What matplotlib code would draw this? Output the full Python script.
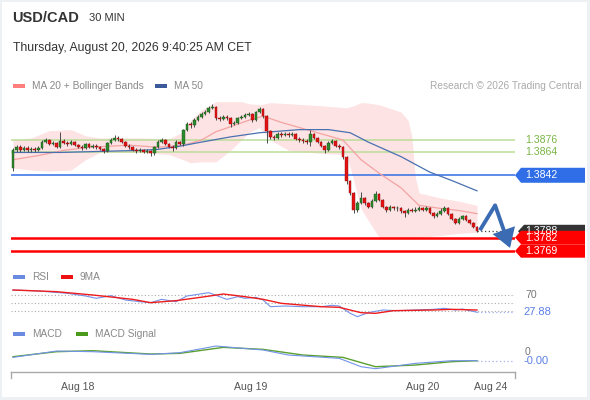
import numpy as np
import matplotlib
matplotlib.use('Agg')
import matplotlib.pyplot as plt
from matplotlib.patches import Polygon, Rectangle
from matplotlib.transforms import blended_transform_factory
from matplotlib.lines import Line2D

plt.rcParams['font.family'] = ['Liberation Sans', 'DejaVu Sans']

# ---------------- data ----------------
symbol = "USD/CAD"
timeframe = "30 MIN"
timestamp = "Thursday, August 20, 2026 9:40:25 AM CET"

first_open = 1.3849
closes = [1.3866, 1.3869, 1.3866, 1.3868, 1.3866, 1.3867, 1.3866, 1.3868, 1.3874, 1.3876,
          1.3872, 1.3873, 1.3869, 1.3875, 1.3873, 1.3872, 1.3874, 1.3871, 1.3869, 1.3868,
          1.3872, 1.3869, 1.3870, 1.3869, 1.3867, 1.3865, 1.3873, 1.3876, 1.3878, 1.3877,
          1.3874, 1.3870, 1.3869, 1.3866, 1.3865, 1.3866, 1.3864, 1.3865, 1.3863, 1.3869,
          1.3874, 1.3876, 1.3872, 1.3869, 1.3868, 1.3874, 1.3872, 1.3886, 1.3891, 1.3890,
          1.3895, 1.3898, 1.3901, 1.3903, 1.3907, 1.3908, 1.3897, 1.3896, 1.3898, 1.3897,
          1.3891, 1.3892, 1.3897, 1.3898, 1.3900, 1.3901, 1.3895, 1.3903, 1.3906, 1.3899,
          1.3885, 1.3879, 1.3878, 1.3882, 1.3881, 1.3882, 1.3881, 1.3882, 1.3877, 1.3876,
          1.3875, 1.3874, 1.3882, 1.3878, 1.3874, 1.3870, 1.3866, 1.3873, 1.3875, 1.3870,
          1.3869, 1.3860, 1.3836, 1.3825, 1.3809, 1.3815, 1.3820, 1.3815, 1.3811, 1.3817,
          1.3824, 1.3818, 1.3811, 1.3809, 1.3811, 1.3810, 1.3810, 1.3808, 1.3806, 1.3809,
          1.3808, 1.3809, 1.3810, 1.3809, 1.3810, 1.3806, 1.3803, 1.3805, 1.3808, 1.3810,
          1.3805, 1.3800, 1.3796, 1.3800, 1.3803, 1.3799, 1.3796, 1.3792, 1.3788]
highs = [1.3868, 1.3871, 1.3871, 1.3870, 1.3870, 1.3869, 1.3869, 1.3870, 1.3876, 1.3878,
         1.3877, 1.3875, 1.3874, 1.3884, 1.3877, 1.3875, 1.3876, 1.3875, 1.3872, 1.3871,
         1.3873, 1.3873, 1.3872, 1.3872, 1.3870, 1.3868, 1.3874, 1.3878, 1.3881, 1.3880,
         1.3878, 1.3875, 1.3872, 1.3870, 1.3868, 1.3868, 1.3867, 1.3867, 1.3866, 1.3870,
         1.3876, 1.3878, 1.3877, 1.3873, 1.3871, 1.3876, 1.3875, 1.3887, 1.3893, 1.3893,
         1.3897, 1.3900, 1.3903, 1.3905, 1.3909, 1.3911, 1.3909, 1.3899, 1.3900, 1.3900,
         1.3898, 1.3894, 1.3898, 1.3900, 1.3902, 1.3903, 1.3902, 1.3904, 1.3908, 1.3907,
         1.3900, 1.3886, 1.3881, 1.3884, 1.3884, 1.3884, 1.3884, 1.3884, 1.3883, 1.3879,
         1.3878, 1.3877, 1.3886, 1.3883, 1.3879, 1.3875, 1.3871, 1.3875, 1.3877, 1.3876,
         1.3872, 1.3870, 1.3861, 1.3837, 1.3826, 1.3817, 1.3826, 1.3821, 1.3816, 1.3819,
         1.3827, 1.3825, 1.3819, 1.3812, 1.3813, 1.3812, 1.3812, 1.3811, 1.3809, 1.3810,
         1.3810, 1.3811, 1.3812, 1.3811, 1.3812, 1.3811, 1.3807, 1.3807, 1.3810, 1.3812,
         1.3811, 1.3806, 1.3801, 1.3802, 1.3804, 1.3804, 1.3800, 1.3797, 1.3793]
lows = [1.3846, 1.3864, 1.3864, 1.3865, 1.3864, 1.3864, 1.3864, 1.3865, 1.3867, 1.3873,
        1.3871, 1.3871, 1.3868, 1.3868, 1.3872, 1.3870, 1.3871, 1.3870, 1.3868, 1.3866,
        1.3867, 1.3868, 1.3868, 1.3867, 1.3866, 1.3863, 1.3864, 1.3872, 1.3875, 1.3875,
        1.3873, 1.3869, 1.3867, 1.3865, 1.3863, 1.3864, 1.3863, 1.3863, 1.3861, 1.3862,
        1.3868, 1.3873, 1.3871, 1.3868, 1.3865, 1.3867, 1.3871, 1.3870, 1.3885, 1.3888,
        1.3889, 1.3894, 1.3897, 1.3900, 1.3902, 1.3906, 1.3895, 1.3894, 1.3895, 1.3895,
        1.3889, 1.3890, 1.3891, 1.3896, 1.3897, 1.3899, 1.3893, 1.3894, 1.3902, 1.3897,
        1.3873, 1.3877, 1.3876, 1.3877, 1.3879, 1.3880, 1.3879, 1.3880, 1.3876, 1.3874,
        1.3873, 1.3872, 1.3870, 1.3877, 1.3873, 1.3869, 1.3863, 1.3865, 1.3872, 1.3869,
        1.3867, 1.3858, 1.3834, 1.3823, 1.3806, 1.3807, 1.3814, 1.3813, 1.3810, 1.3810,
        1.3816, 1.3817, 1.3810, 1.3807, 1.3808, 1.3809, 1.3808, 1.3806, 1.3802, 1.3805,
        1.3807, 1.3807, 1.3808, 1.3808, 1.3808, 1.3805, 1.3801, 1.3802, 1.3804, 1.3807,
        1.3804, 1.3799, 1.3795, 1.3795, 1.3799, 1.3798, 1.3795, 1.3791, 1.3787]

# indicator readings (candle index, value)
ma20_idx = [0, 7, 14, 21, 32, 40, 47, 52, 56, 61, 65, 69, 74, 79, 85, 91, 96, 101, 107, 112, 118, 123, 128]
ma20_val = [1.3857, 1.3861, 1.3866, 1.3869, 1.3871, 1.3869, 1.3871, 1.3876, 1.3884, 1.3890, 1.3895, 1.3899,
            1.3893, 1.3888, 1.3882, 1.3876, 1.3857, 1.3844, 1.3830, 1.3813, 1.3810, 1.3808, 1.3805]
ma50_idx = [0, 13, 24, 35, 40, 46, 52, 60, 68, 79, 87, 93, 98, 107, 115, 121, 128]
ma50_val = [1.3864, 1.3864, 1.3865, 1.3866, 1.3867, 1.3870, 1.3874, 1.3879, 1.3883, 1.3886, 1.3886,
            1.3883, 1.3874, 1.3860, 1.3845, 1.3837, 1.3827]
bb_idx = [0, 5, 10, 16, 20, 24, 35, 43, 47, 49, 52, 56, 60, 63, 65, 68, 71, 76, 85, 92, 94, 96, 97,
          101, 107, 109, 110, 111, 112, 118, 123, 128]
bb_upper = [1.3876, 1.3878, 1.3885, 1.3886, 1.3880, 1.3878, 1.3878, 1.3877, 1.3884, 1.3895, 1.3905,
            1.3913, 1.3913, 1.3913, 1.3911, 1.3910, 1.3912, 1.3911, 1.3909, 1.3907, 1.3909, 1.3912,
            1.3912, 1.3910, 1.3903, 1.3895, 1.3880, 1.3840, 1.3825, 1.3820, 1.3817, 1.3813]
bb_lower = [1.3849, 1.3847, 1.3846, 1.3847, 1.3857, 1.3864, 1.3864, 1.3862, 1.3857, 1.3854, 1.3855,
            1.3855, 1.3866, 1.3876, 1.3883, 1.3888, 1.3876, 1.3866, 1.3863, 1.3862, 1.3837, 1.3810,
            1.3804, 1.3782, 1.3781, 1.3781, 1.3782, 1.3782, 1.3782, 1.3784, 1.3786, 1.3787]

rsi_idx = [0, 7, 15, 20, 23, 27, 31, 35, 38, 41, 45, 48, 51, 54, 59, 62, 64, 67, 69, 71, 75, 80, 85,
           88, 90, 93, 95, 98, 102, 106, 111, 116, 119, 122, 124, 128]
rsi_val = [82.2, 79.8, 74.1, 67.6, 61.9, 68.4, 57.8, 53.7, 51.3, 59.4, 53.7, 67.6, 71.6, 75.7, 59.4,
           65.9, 61.9, 64.3, 57.8, 41.5, 43.2, 41.5, 41.5, 44.8, 43.2, 25.3, 17.2, 26.9, 33.4, 31.8,
           33.4, 35.0, 37.5, 33.4, 35.8, 27.88]
rsi_ma_idx = [0, 12, 22, 33, 38, 45, 53, 58, 64, 69, 74, 85, 90, 96, 100, 105, 116, 121, 128]
rsi_ma_val = [82.2, 78.1, 70.0, 59.4, 51.3, 56.2, 65.9, 72.4, 65.9, 59.4, 49.7, 41.5, 39.9, 26.9,
              25.3, 31.8, 33.4, 35.0, 33.4]
rsi_levels = [70, 50, 30]

macd_idx = [0, 12, 22, 38, 46, 56, 69, 76, 90, 96, 100, 111, 121, 128]
macd_val = [-0.00051, 0.00006, 0.0, -0.00024, -0.00009, 0.00051, 0.00015, -0.00030, -0.00060,
            -0.00135, -0.00153, -0.00105, -0.00081, -0.00081]
signal_idx = [0, 12, 22, 38, 46, 58, 69, 80, 91, 100, 111, 121, 128]
signal_val = [-0.00045, 0.0, 0.00009, -0.00021, -0.00015, 0.00039, 0.00021, -0.00030, -0.00051,
              -0.00135, -0.00120, -0.00090, -0.00081]

resistance = [1.3876, 1.3864]
pivot = 1.3842
supports = [1.3782, 1.3769]
forecast_idx = [128.8, 133.0, 137.1]
forecast_val = [1.3789, 1.3813, 1.3772]

tick_pos = [17.9, 65.7, 113.1, 131.9]
tick_labels = ["Aug 18", "Aug 19", "Aug 20", "Aug 24"]

# ---------------- figure ----------------
W, H = 590, 400
fig = plt.figure(figsize=(W / 100, H / 100), dpi=100)
fig.patch.set_facecolor('#eef1f4')
fig.add_artist(Rectangle((1.5 / W, 3 / H), (W - 4.5) / W, (H - 4.5) / H,
                         transform=fig.transFigure, facecolor='white', edgecolor='none', zorder=-10))


def rect(x0, y0, x1, y1):
    return [x0 / W, 1 - y1 / H, (x1 - x0) / W, (y1 - y0) / H]


n = len(closes)
idx = np.arange(n)
opens = np.r_[first_open, closes[:-1]]
closes_a = np.array(closes)
xl = ((11 - 13) / 3.625, (515 - 13) / 3.625)

# main panel
ax = fig.add_axes(rect(11, 95, 515, 262))
ax.set_xlim(*xl)
ax.set_ylim(1.375839, 1.391938)
ax.axis('off')

ax.fill_between(bb_idx, bb_lower, bb_upper, color='#fde3e3', lw=0, zorder=1)
ax.plot(ma20_idx, ma20_val, color='#f4a3a3', lw=0.9, zorder=2)
ax.plot(ma50_idx, ma50_val, color='#4a70b0', lw=0.9, zorder=2)

for r in resistance:
    ax.axhline(r, color='#bcdc98', lw=1.1, zorder=1.5)
ax.axhline(pivot, color='#2f6ee6', lw=1.1, zorder=1.5)
for s in supports:
    ax.axhline(s, color='#ff0000', lw=1.8, zorder=1.5)

ax.vlines(idx, lows, highs, color='#4a4a4a', lw=0.7, zorder=3)
up = closes_a >= opens
body_h = np.maximum(np.abs(closes_a - opens), 0.00005)
body_b = np.minimum(closes_a, opens)
ax.bar(idx[up], body_h[up], bottom=body_b[up], width=0.74, color='#2b8a2b',
       edgecolor='#1e4f1e', lw=0.3, zorder=4)
ax.bar(idx[~up], body_h[~up], bottom=body_b[~up], width=0.74, color='#e41414',
       edgecolor='#8a0a0a', lw=0.3, zorder=4)

# last price dotted
ax.plot([n - 1, xl[1]], [closes[-1], closes[-1]], color='#444444', lw=0.9,
        linestyle=(0, (1, 2)), zorder=3)

# forecast arrow
acol = '#3b6cb3'
ax.plot(forecast_idx[:2], forecast_val[:2], color=acol, lw=2.8, solid_capstyle='butt',
        solid_joinstyle='miter', zorder=6, clip_on=False)
ax.annotate('', xy=(forecast_idx[2], forecast_val[2]), xytext=(forecast_idx[1], forecast_val[1]),
            arrowprops=dict(arrowstyle='-|>,head_width=0.6,head_length=0.95', lw=2.8, color=acol,
                            shrinkA=0, shrinkB=0, joinstyle='miter'),
            zorder=6, annotation_clip=False)

# right labels
bt = blended_transform_factory(fig.transFigure, ax.transData)
pp = 0.0000964  # price per pixel


def tag(price, color, text, half=7.0, tip=515, x1=585):
    pts = [(tip / W, price), ((tip + 6) / W, price + half * pp), (x1 / W, price + half * pp),
           (x1 / W, price - half * pp), ((tip + 6) / W, price - half * pp)]
    fig.add_artist(Polygon(pts, closed=True, transform=bt, facecolor=color, edgecolor='none', zorder=20))
    fig.text(525 / W, price, text, transform=bt, color='white', fontsize=7.6, va='center',
             ha='left', zorder=21)


for r in resistance:
    fig.text(525 / W, r, f"{r:.4f}", transform=bt, color='#7ab545', fontsize=7.6, va='center', ha='left')
tag(pivot, '#2f6ee6', f"{pivot:.4f}", half=7.5)
tag(closes[-1], '#333333', f"{closes[-1]:.4f}", half=6.5, tip=518)
tag(supports[0], '#ff0000', f"{supports[0]:.4f}", half=6.7)
tag(supports[1], '#ff0000', f"{supports[1]:.4f}", half=6.7)

# RSI panel
ax2 = fig.add_axes(rect(11, 286, 515, 320))
ax2.set_xlim(*xl)
ax2.set_ylim(9.02, 91.95)
ax2.axis('off')
for lv in rsi_levels:
    ax2.plot(xl, [lv, lv], color='#aaaaaa', lw=0.8, linestyle=(0, (1, 2)))
ax2.plot(rsi_idx, rsi_val, color='#7393ea', lw=0.8, zorder=3)
ax2.plot(rsi_ma_idx, rsi_ma_val, color='#ee1c1c', lw=1.0, zorder=4)
ax2.plot([rsi_idx[-1], xl[1]], [rsi_val[-1], rsi_val[-1]], color='#9db2ee', lw=0.9,
         linestyle=(0, (1, 2)))
bt2 = blended_transform_factory(fig.transFigure, ax2.transData)
fig.text(525 / W, 70, "70", transform=bt2, color='#777777', fontsize=7.6, va='center')
fig.text(523 / W, rsi_val[-1], f"{rsi_val[-1]:.2f}", transform=bt2, color='#5b80e6', fontsize=8,
         va='center', bbox=dict(facecolor='white', edgecolor='none', pad=0.5))

# MACD panel
ax3 = fig.add_axes(rect(11, 338, 515, 372))
ax3.set_xlim(*xl)
ax3.set_ylim(-0.001827, 0.001233)
for sp in ['top', 'right', 'left']:
    ax3.spines[sp].set_visible(False)
ax3.spines['bottom'].set_color('#aaaaaa')
ax3.spines['bottom'].set_linewidth(1.0)
ax3.set_yticks([])
ax3.set_xticks(tick_pos)
ax3.set_xticklabels(tick_labels, fontsize=7.6, color='#555555')
ax3.tick_params(axis='x', length=0, pad=7)
ax3.plot(signal_idx, signal_val, color='#5aa02c', lw=1.0, zorder=3)
ax3.plot(macd_idx, macd_val, color='#7393ea', lw=0.8, zorder=4)
ax3.plot([macd_idx[-1], xl[1]], [macd_val[-1], macd_val[-1]], color='#9db2ee', lw=0.9,
         linestyle=(0, (1, 2)))
bt3 = blended_transform_factory(fig.transFigure, ax3.transData)
fig.text(525 / W, 0, "0", transform=bt3, color='#777777', fontsize=7.6, va='center')
fig.text(523 / W, macd_val[-1], f"{macd_val[-1]:.2f}", transform=bt3, color='#5b80e6', fontsize=8,
         va='center', bbox=dict(facecolor='white', edgecolor='none', pad=0.5))
for xp in (11, 515):
    fig.add_artist(Line2D([xp / W, xp / W], [1 - 372 / H, 1 - 378 / H], transform=fig.transFigure,
                          color='#aaaaaa', lw=1.0))

# headers
fig.text(12 / W, 1 - 18 / H, symbol, fontsize=10.5, fontweight='bold', color='#333333', va='center')
fig.text(89 / W, 1 - 18 / H, timeframe, fontsize=8, color='#333333', va='center')
fig.text(13 / W, 1 - 48 / H, timestamp, fontsize=8.8, color='#333333', va='center')


def legend_item(x, y, color, label):
    fig.add_artist(Rectangle((x / W, 1 - (y + 2) / H), 12 / W, 4 / H, transform=fig.transFigure,
                             facecolor=color, edgecolor='none'))
    fig.text((x + 19) / W, 1 - y / H, label, fontsize=7.3, color='#888888', va='center')


legend_item(13, 86, '#ff7f7f', "MA 20 + Bollinger Bands")
legend_item(155, 86, '#3c5a99', "MA 50")
fig.text(581 / W, 1 - 86 / H, "Research © 2026 Trading Central", fontsize=7.3, color='#aaaaaa',
         va='center', ha='right')
legend_item(13, 277, '#6a8be0', "RSI")
legend_item(61, 277, '#ee1111', "9MA")
legend_item(13, 334, '#6a8be0', "MACD")
legend_item(76, 334, '#4c9a1c', "MACD Signal")

fig.savefig('out.png', dpi=100, facecolor=fig.get_facecolor())
